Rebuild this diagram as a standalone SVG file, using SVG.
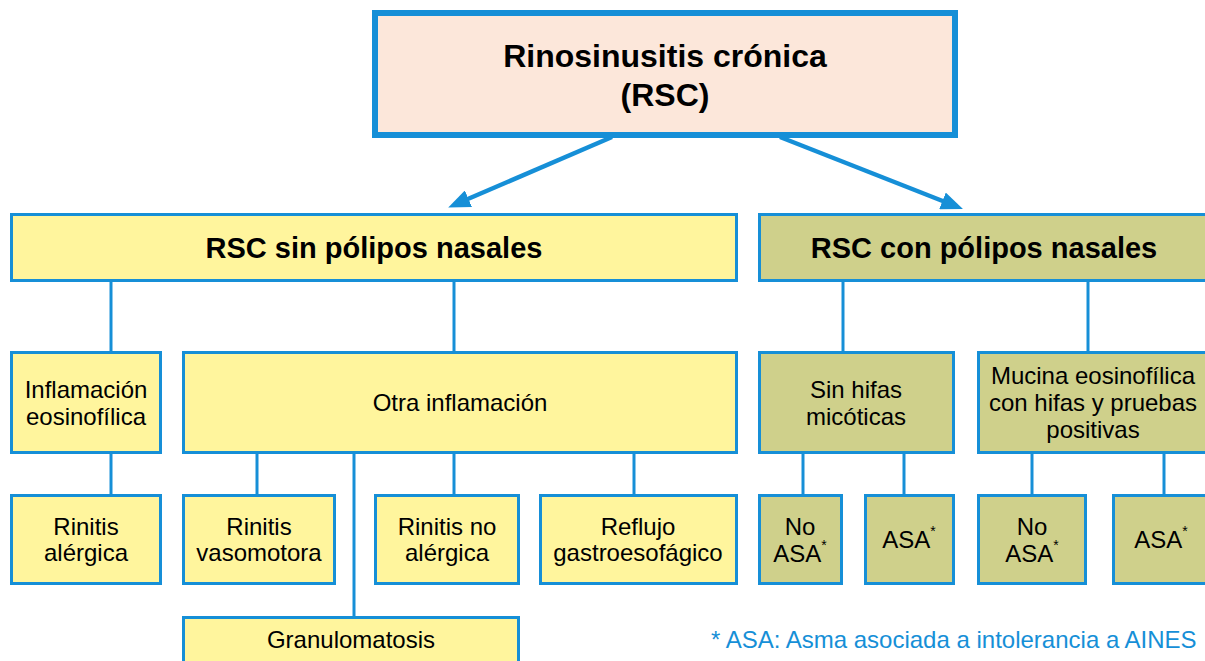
<svg xmlns="http://www.w3.org/2000/svg" width="1205" height="661" viewBox="0 0 1205 661">
<style>
text{font-family:"Liberation Sans",Arial,sans-serif;fill:#000;text-anchor:middle}
.t{font-size:32px;font-weight:bold}
.h{font-size:29px;font-weight:bold}
.l{font-size:24px}
.s{font-size:14px}
.y{fill:#fff59d;stroke:#168fd7;stroke-width:3}
.o{fill:#cfd08b;stroke:#168fd7;stroke-width:3}
.c{stroke:#168fd7;stroke-width:3;fill:none}
.a{stroke:#168fd7;stroke-width:4.5;fill:none}
.fn{font-size:24px;fill:#168fd7;text-anchor:start}
</style>
<defs>
<marker id="ah" markerUnits="userSpaceOnUse" markerWidth="22" markerHeight="18" viewBox="0 0 22 18" refX="7" refY="9" orient="auto">
<path d="M0,0 L22,9 L0,18 z" fill="#168fd7"/>
</marker>
</defs>
<rect width="1205" height="661" fill="#fff"/>
<g id="connectors">
<line class="a" x1="612" y1="137" x2="462" y2="201.5" marker-end="url(#ah)"/>
<line class="a" x1="780" y1="137" x2="949" y2="203.5" marker-end="url(#ah)"/>
<line class="c" x1="111" y1="282" x2="111" y2="351"/>
<line class="c" x1="454" y1="282" x2="454" y2="351"/>
<line class="c" x1="111" y1="454" x2="111" y2="494"/>
<line class="c" x1="257" y1="454" x2="257" y2="494"/>
<line class="c" x1="354" y1="454" x2="354" y2="616"/>
<line class="c" x1="454" y1="454" x2="454" y2="494"/>
<line class="c" x1="634" y1="454" x2="634" y2="494"/>
<line class="c" x1="843" y1="282" x2="843" y2="351"/>
<line class="c" x1="1088" y1="282" x2="1088" y2="351"/>
<line class="c" x1="803" y1="454" x2="803" y2="494"/>
<line class="c" x1="904" y1="454" x2="904" y2="494"/>
<line class="c" x1="1032" y1="454" x2="1032" y2="494"/>
<line class="c" x1="1164" y1="454" x2="1164" y2="494"/>
</g>
<g id="rsc">
<rect x="375" y="13" width="580" height="122" fill="#fce7da" stroke="#168fd7" stroke-width="6"/>
<text class="t" x="665" y="67">Rinosinusitis crónica</text>
<text class="t" x="665" y="106">(RSC)</text>
</g>
<g id="sin-polipos">
<rect class="y" x="11.5" y="214.5" width="725" height="66"/>
<text class="h" x="374" y="258">RSC sin pólipos nasales</text>
</g>
<g id="con-polipos">
<rect class="o" x="759.5" y="214.5" width="452" height="66"/>
<text class="h" x="984" y="258">RSC con pólipos nasales</text>
</g>
<g id="inflamacion-eos">
<rect class="y" x="11.5" y="352.5" width="149" height="100"/>
<text class="l" x="86" y="398">Inflamación</text>
<text class="l" x="86" y="425">eosinofílica</text>
</g>
<g id="otra-inflamacion">
<rect class="y" x="183.5" y="352.5" width="553" height="100"/>
<text class="l" x="460" y="411">Otra inflamación</text>
</g>
<g id="rinitis-alergica">
<rect class="y" x="11.5" y="495.5" width="149" height="88"/>
<text class="l" x="86" y="535">Rinitis</text>
<text class="l" x="86" y="561">alérgica</text>
</g>
<g id="rinitis-vasomotora">
<rect class="y" x="183.5" y="495.5" width="151" height="88"/>
<text class="l" x="259" y="535">Rinitis</text>
<text class="l" x="259" y="561">vasomotora</text>
</g>
<g id="rinitis-no-alergica">
<rect class="y" x="375.5" y="495.5" width="143" height="88"/>
<text class="l" x="447" y="535">Rinitis no</text>
<text class="l" x="447" y="561">alérgica</text>
</g>
<g id="reflujo">
<rect class="y" x="540.5" y="495.5" width="196" height="88"/>
<text class="l" x="638" y="535">Reflujo</text>
<text class="l" x="638" y="561">gastroesofágico</text>
</g>
<g id="granulomatosis">
<rect class="y" x="183.5" y="617.5" width="335" height="60"/>
<text class="l" x="351" y="648">Granulomatosis</text>
</g>
<g id="sin-hifas">
<rect class="o" x="759.5" y="352.5" width="194" height="100"/>
<text class="l" x="856" y="398">Sin hifas</text>
<text class="l" x="856" y="425">micóticas</text>
</g>
<g id="mucina">
<rect class="o" x="978.5" y="352.5" width="240" height="100"/>
<text class="l" x="1093" y="384">Mucina eosinofílica</text>
<text class="l" x="1093" y="411">con hifas y pruebas</text>
<text class="l" x="1093" y="438">positivas</text>
</g>
<g id="no-asa-1">
<rect class="o" x="759.5" y="495.5" width="82" height="88"/>
<text class="l" x="800" y="535">No</text>
<text class="l" x="800" y="562">ASA<tspan class="s" dy="-12">*</tspan></text>
</g>
<g id="asa-1">
<rect class="o" x="865.5" y="495.5" width="88" height="88"/>
<text class="l" x="909" y="548">ASA<tspan class="s" dy="-12">*</tspan></text>
</g>
<g id="no-asa-2">
<rect class="o" x="978.5" y="495.5" width="107" height="88"/>
<text class="l" x="1032" y="535">No</text>
<text class="l" x="1032" y="562">ASA<tspan class="s" dy="-12">*</tspan></text>
</g>
<g id="asa-2">
<rect class="o" x="1113.5" y="495.5" width="100" height="88"/>
<text class="l" x="1161" y="548">ASA<tspan class="s" dy="-12">*</tspan></text>
</g>
<text class="fn" x="711" y="648">* ASA: Asma asociada a intolerancia a AINES</text>
</svg>
